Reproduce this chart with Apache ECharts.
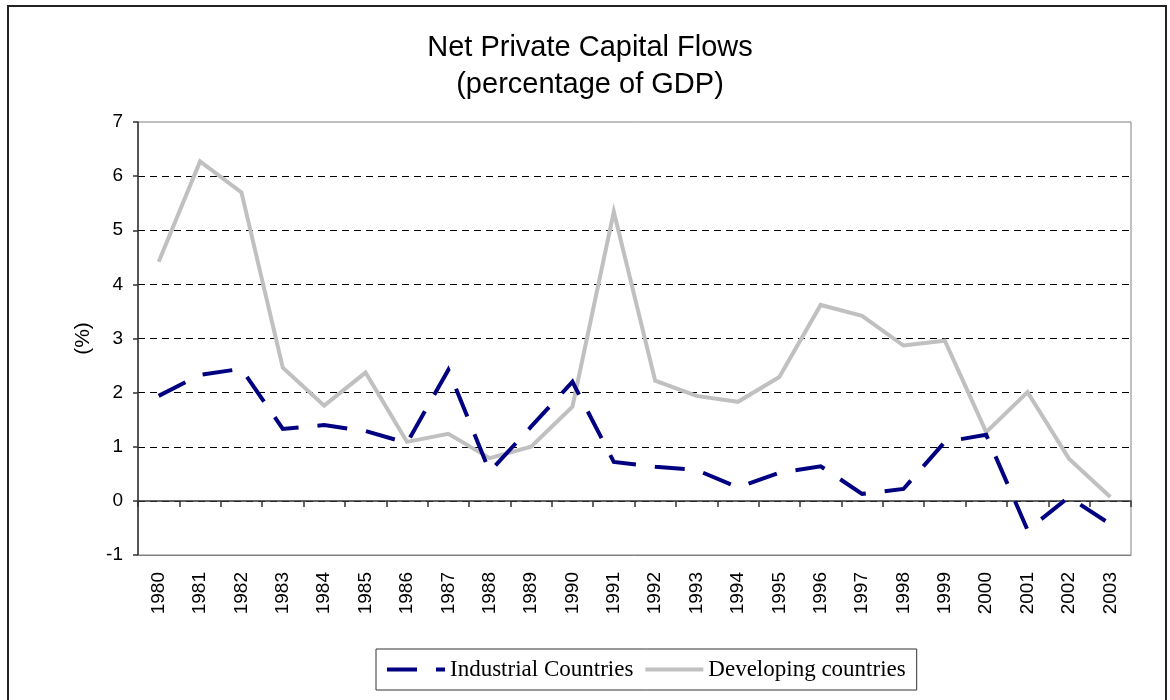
<!DOCTYPE html>
<html>
<head>
<meta charset="utf-8">
<script src="https://cdn.jsdelivr.net/npm/echarts@6/dist/echarts.min.js"></script>
<style>
  html, body { margin: 0; padding: 0; background: #fff; }
  #chart { width: 1170px; height: 700px; }
</style>
</head>
<body>
<div id="chart"></div>
<script>
// Years on the category axis
const years = ['1980','1981','1982','1983','1984','1985','1986','1987','1988','1989','1990','1991',
               '1992','1993','1994','1995','1996','1997','1998','1999','2000','2001','2002','2003'];

// Net private capital flows, % of GDP
const industrial = [1.94, 2.33, 2.44, 1.33, 1.40, 1.29, 1.07, 2.42, 0.54, 1.37, 2.20, 0.72,
                    0.63, 0.57, 0.25, 0.52, 0.64, 0.13, 0.22, 1.09, 1.22, -0.54, 0.07, -0.43];
const developing = [4.42, 6.27, 5.70, 2.46, 1.76, 2.37, 1.09, 1.24, 0.79, 1.00, 1.74, 5.34,
                    2.22, 1.94, 1.83, 2.29, 3.62, 3.42, 2.87, 2.96, 1.27, 2.01, 0.78, 0.07];

// Value-axis range
const yMin = -1, yMax = 7, yStep = 1;

const chart = echarts.init(document.getElementById('chart'), null, { renderer: 'canvas' });

chart.setOption({
  backgroundColor: '#ffffff',
  animation: false,
  title: {
    text: 'Net Private Capital Flows\n(percentage of GDP)',
    left: 585,
    top: 24,
    textAlign: 'center',
    textStyle: {
      fontFamily: 'Liberation Sans, Arial, sans-serif',
      fontSize: 29,
      fontWeight: 'normal',
      lineHeight: 37,
      color: '#000'
    }
  },
  graphic: [{
    type: 'rect',
    shape: { x: 8, y: 6, width: 1158, height: 710 },
    style: { fill: 'none', stroke: '#222', lineWidth: 2 },
    silent: true,
    z: -1
  }],
  legend: {
    data: ['Industrial Countries', 'Developing countries'],
    left: 376,
    top: 649,
    orient: 'horizontal',
    padding: [9, 11, 9, 9],
    itemWidth: 58,
    itemHeight: 14,
    itemGap: 10,
    borderColor: '#333',
    borderWidth: 1,
    borderRadius: 0,
    itemStyle: { opacity: 0 },
    lineStyle: { width: 4 },
    textStyle: {
      fontFamily: 'Liberation Serif, Times New Roman, serif',
      fontSize: 23,
      color: '#000'
    }
  },
  grid: {
    left: 138,
    top: 122,
    right: 39,
    bottom: 145,
    show: true,
    borderColor: '#808080',
    borderWidth: 1,
    backgroundColor: '#fff'
  },
  xAxis: [{
    type: 'category',
    data: years,
    position: 'bottom',
    boundaryGap: true,
    axisLine: { onZero: false, show: true, lineStyle: { color: '#808080', width: 1 } },
    axisTick: { show: false },
    splitLine: { show: false },
    axisLabel: {
      rotate: 90,
      margin: 17,
      fontFamily: 'Liberation Sans, Arial, sans-serif',
      fontSize: 19,
      color: '#000',
      interval: 0
    }
  }, {
    type: 'category',
    data: years,
    position: 'bottom',
    boundaryGap: true,
    axisLine: { onZero: true, show: true, lineStyle: { color: '#333', width: 1.5 } },
    axisTick: { show: true, length: 6, interval: 0, lineStyle: { color: '#333', width: 1.5 } },
    axisLabel: { show: false },
    splitLine: { show: false }
  }],
  yAxis: {
    type: 'value',
    min: yMin,
    max: yMax,
    interval: yStep,
    name: '(%)',
    nameLocation: 'middle',
    nameGap: 44,
    nameTextStyle: {
      fontFamily: 'Liberation Sans, Arial, sans-serif',
      fontSize: 21,
      color: '#000'
    },
    axisLine: { show: true, lineStyle: { color: '#333', width: 1.5 } },
    axisTick: { show: true, length: 5, lineStyle: { color: '#333', width: 1.5 } },
    axisLabel: {
      margin: 15,
      fontFamily: 'Liberation Sans, Arial, sans-serif',
      fontSize: 19,
      color: '#000'
    },
    splitLine: {
      show: true,
      showMinLine: false,
      showMaxLine: false,
      lineStyle: { color: '#000', width: 1, type: [7, 5] }
    }
  },
  series: [{
    name: 'Developing countries',
    type: 'line',
    data: developing,
    xAxisIndex: 0,
    symbol: 'none',
    lineStyle: { color: '#c0c0c0', width: 4, cap: 'butt', join: 'miter' },
    itemStyle: { color: '#c0c0c0' },
    z: 2
  }, {
    name: 'Industrial Countries',
    type: 'line',
    data: industrial,
    xAxisIndex: 0,
    symbol: 'none',
    lineStyle: { color: '#000080', width: 4, type: [30, 19], cap: 'butt', join: 'miter' },
    itemStyle: { color: '#000080' },
    z: 3
  }]
});
</script>
</body>
</html>
